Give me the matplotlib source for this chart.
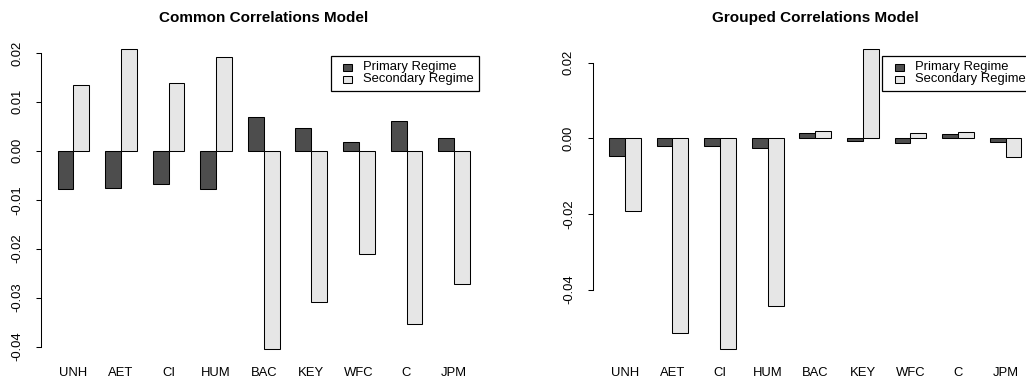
import matplotlib
matplotlib.use('Agg')
import matplotlib.pyplot as plt
from matplotlib.patches import Rectangle

plt.rcParams['font.family'] = ['Liberation Sans', 'DejaVu Sans']
plt.rcParams['axes.unicode_minus'] = False

# data
tickers = ['UNH', 'AET', 'CI', 'HUM', 'BAC', 'KEY', 'WFC', 'C', 'JPM']
common_primary = [-0.0078, -0.0075, -0.0068, -0.0078, 0.0070, 0.0046, 0.0018, 0.0061, 0.0026]
common_secondary = [0.0134, 0.0207, 0.0138, 0.0192, -0.0405, -0.0309, -0.0211, -0.0353, -0.0273]
grouped_primary = [-0.0046, -0.0019, -0.0019, -0.0025, 0.0013, -0.0007, -0.0012, 0.0012, -0.0009]
grouped_secondary = [-0.0193, -0.0515, -0.0557, -0.0443, 0.0020, 0.0235, 0.0013, 0.0018, -0.0049]
legend_labels = ['Primary Regime', 'Secondary Regime']
common_ticks = [0.02, 0.01, 0.0, -0.01, -0.02, -0.03, -0.04]
grouped_ticks = [0.02, 0.0, -0.02, -0.04]

W, H = 1026, 378
dark = '#4D4D4D'
light = '#E6E6E6'
fs = 9.4


def px(x, y):
    # pixel coords (top-left origin) -> figure fraction
    return x / W, 1 - y / H


def draw_panel(fig, rect, prim, sec, ticks, title, leg_x):
    ax = fig.add_axes(rect)
    pos1 = [1 + 3 * i for i in range(len(tickers))]
    pos2 = [2 + 3 * i for i in range(len(tickers))]
    ax.bar(pos1, prim, width=1, align='edge', color=dark, edgecolor='black', linewidth=0.75)
    ax.bar(pos2, sec, width=1, align='edge', color=light, edgecolor='black', linewidth=0.75)
    lo = min(min(prim), min(sec))
    hi = max(max(prim), max(sec))
    pad = 0.04 * (hi - lo)
    ax.set_ylim(lo - pad, hi + pad)
    ax.set_xlim(1 - 0.04 * 26, 27 + 0.04 * 26)
    for s in ['top', 'right', 'bottom']:
        ax.spines[s].set_visible(False)
    ax.spines['left'].set_bounds(min(ticks), max(ticks))
    ax.spines['left'].set_linewidth(0.75)
    ax.set_yticks(ticks)
    ax.set_yticklabels(['%.2f' % t for t in ticks], rotation=90, va='center', fontsize=fs)
    ax.tick_params(axis='y', length=3.6, width=0.75, pad=9)
    ax.set_xticks([2 + 3 * i for i in range(len(tickers))])
    ax.set_xticklabels(tickers, fontsize=fs)
    ax.tick_params(axis='x', length=0, pad=4)
    ax.patch.set_visible(False)

    # title centred on plot region
    cx = rect[0] + rect[2] / 2
    fig.text(cx, px(0, 18)[1], title, ha='center', va='center', fontsize=11, fontweight='bold')

    # legend box drawn in R style
    x0, y0 = px(leg_x, 55.5)
    x1, y1 = px(leg_x + 148.5, 90.5)
    fig.patches.append(Rectangle((x0, y1), x1 - x0, y0 - y1, transform=fig.transFigure,
                                 facecolor='white', edgecolor='black', linewidth=0.9))
    for j, (lab, col) in enumerate(zip(legend_labels, [dark, light])):
        yc = 67.3 + 11.8 * j
        bx, by = px(leg_x + 12.5, yc + 3.5)
        bx2, by2 = px(leg_x + 21.5, yc - 3.5)
        fig.patches.append(Rectangle((bx, by), bx2 - bx, by2 - by, transform=fig.transFigure,
                                     facecolor=col, edgecolor='black', linewidth=0.75))
        tx, ty = px(leg_x + 32.5, yc)
        fig.text(tx, ty, lab, ha='left', va='center', fontsize=fs)
    return ax


fig = plt.figure(figsize=(W / 100, H / 100), dpi=100)
b = (H - 361) / H
h = (361 - 37.5) / H
draw_panel(fig, [41 / W, b, 445.5 / W, h], common_primary, common_secondary,
           common_ticks, 'Common Correlations Model', 330.7)
draw_panel(fig, [592.5 / W, b, 445.5 / W, h], grouped_primary, grouped_secondary,
           grouped_ticks, 'Grouped Correlations Model', 882.3)

fig.savefig('out.png', dpi=100)
